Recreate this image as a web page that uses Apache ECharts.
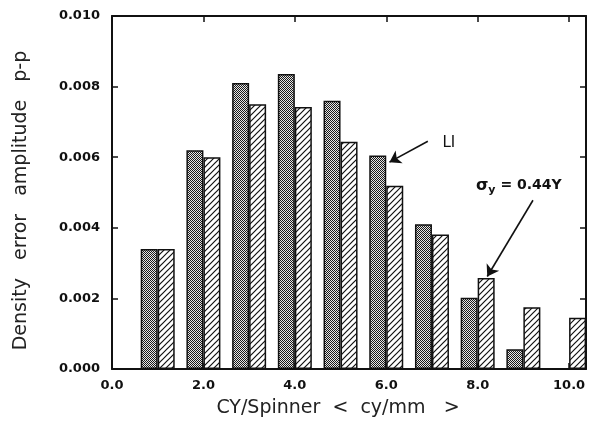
<!DOCTYPE html>
<html><head><meta charset="utf-8">
<script src="https://cdn.jsdelivr.net/npm/echarts@6/dist/echarts.min.js"></script>
<style>html,body{margin:0;padding:0;background:#fff}#c{width:593px;height:424px}</style>
</head><body><div id="c"></div>
<script>
// Data
const freqs = [1, 2, 3, 4, 5, 6, 7, 8, 9, 10];
const liValues = [0.0034, 0.0062, 0.0081, 0.00836, 0.0076, 0.00605, 0.0041, 0.00202, 0.00056, 0];
const sigmaValues = [0.0034, 0.0060, 0.0075, 0.00742, 0.00644, 0.00519, 0.00381, 0.00258, 0.00175, 0.00145];
const xTickLabels = ['0.0', '2.0', '4.0', '6.0', '8.0', '10.0'];
const yTickLabels = ['0.000', '0.002', '0.004', '0.006', '0.008', '0.010'];
const liLabel = 'LI';
const liArrow = [[6.91, 0.00645], [6.07, 0.00586]];
const liTextAt = [7.37, 0.00639];
const sigmaArrow = [[9.21, 0.00478], [8.21, 0.00262]];
const sigmaTextAt = [8.9, 0.00519];

function dotPattern() {
  const c = document.createElement('canvas'); c.width = 2; c.height = 2;
  const g = c.getContext('2d');
  g.fillStyle = '#e6e6e6'; g.fillRect(0, 0, 2, 2);
  g.fillStyle = '#1a1a1a'; g.fillRect(0, 0, 1, 1); g.fillRect(1, 1, 1, 1);
  return c;
}
function hatchPattern() {
  const s = 6;
  const c = document.createElement('canvas'); c.width = s; c.height = s;
  const g = c.getContext('2d');
  g.fillStyle = '#fff'; g.fillRect(0, 0, s, s);
  g.strokeStyle = '#111'; g.lineWidth = 1.2;
  g.beginPath();
  g.moveTo(-s, 2 * s); g.lineTo(2 * s, -s);
  g.moveTo(-s, s); g.lineTo(s, -s);
  g.moveTo(0, 2 * s); g.lineTo(2 * s, 0);
  g.stroke();
  return c;
}

const font = 'DejaVu Sans, Liberation Sans, sans-serif';
const chart = echarts.init(document.getElementById('c'));
const xCommon = {
  type: 'value', min: 0, max: 10.37, interval: 2,
  axisLine: { show: true, onZero: false, lineStyle: { color: '#111', width: 2 } },
  axisTick: { show: true, inside: true, length: 6, lineStyle: { color: '#111', width: 1.5 } },
  splitLine: { show: false }
};
const yCommon = {
  type: 'value', min: 0, max: 0.010, interval: 0.002,
  axisLine: { show: true, onZero: false, lineStyle: { color: '#111', width: 2 } },
  axisTick: { show: true, inside: true, length: 6, lineStyle: { color: '#111', width: 1.5 } },
  splitLine: { show: false }
};
chart.setOption({
  animation: false,
  backgroundColor: '#fff',
  grid: { left: 112, right: 7, top: 16, bottom: 55 },
  xAxis: [
    Object.assign({}, xCommon, {
      position: 'bottom',
      axisLabel: {
        margin: 10, color: '#111', fontSize: 13, fontWeight: 'bold', fontFamily: font,
        formatter: v => { const i = Math.round(v / 2); return (Math.abs(v - i * 2) < 1e-6 && i < xTickLabels.length) ? xTickLabels[i] : ''; }
      },
      name: 'CY/Spinner  <  cy/mm   >', nameLocation: 'middle', nameGap: 30,
      nameTextStyle: { fontSize: 19, color: '#222', fontFamily: font, padding: [0, 22, 0, 0] }
    }),
    Object.assign({}, xCommon, { position: 'top', axisLabel: { show: false } })
  ],
  yAxis: [
    Object.assign({}, yCommon, {
      position: 'left',
      axisLabel: {
        margin: 12, color: '#111', fontSize: 13, fontWeight: 'bold', fontFamily: font,
        formatter: v => { const i = Math.round(v / 0.002); return yTickLabels[i] || ''; }
      },
      name: 'Density   error   amplitude   p-p', nameLocation: 'middle', nameGap: 81, nameRotate: 90,
      nameTextStyle: { fontSize: 19, color: '#222', fontFamily: font, padding: [0, 16, 0, 0] }
    }),
    Object.assign({}, yCommon, { position: 'right', axisLabel: { show: false } })
  ],
  series: [
    {
      type: 'bar', name: 'LI', xAxisIndex: 0, yAxisIndex: 0,
      barWidth: 17, barGap: '0%',
      data: freqs.map((f, i) => [f, liValues[i]]),
      itemStyle: { color: { image: dotPattern(), repeat: 'repeat' }, borderColor: '#111', borderWidth: 1.5 }
    },
    {
      type: 'bar', name: 'sigma', xAxisIndex: 0, yAxisIndex: 0,
      barWidth: 17, barGap: '0%',
      data: freqs.map((f, i) => [f, sigmaValues[i]]),
      itemStyle: { color: { image: hatchPattern(), repeat: 'repeat' }, borderColor: '#111', borderWidth: 1.5 }
    },
    {
      type: 'scatter', name: 'notes', xAxisIndex: 0, yAxisIndex: 0, data: [], silent: true,
      markLine: {
        silent: true, animation: false,
        symbol: ['none', 'arrow'], symbolSize: 11,
        lineStyle: { color: '#111', width: 1.6, type: 'solid' },
        label: { show: false },
        data: [
          [{ coord: liArrow[0] }, { coord: liArrow[1] }],
          [{ coord: sigmaArrow[0] }, { coord: sigmaArrow[1] }]
        ]
      },
      markPoint: {
        silent: true, symbol: 'circle', symbolSize: 0,
        data: [
          { coord: liTextAt, label: { show: true, position: 'inside', formatter: liLabel, color: '#111', fontSize: 15, fontFamily: font } },
          { coord: sigmaTextAt, label: {
            show: true, position: 'inside', color: '#111', fontFamily: font,
            formatter: '{s|σ}{sub|y}{t| = 0.44Y}',
            rich: {
              s: { fontSize: 16, fontWeight: 'bold', fontFamily: font, color: '#111' },
              sub: { fontSize: 11, fontWeight: 'bold', fontFamily: font, color: '#111', padding: [9, 0, 0, 0] },
              t: { fontSize: 14, fontWeight: 'bold', fontFamily: font, color: '#111' }
            }
          } }
        ]
      }
    }
  ]
});
</script>
</body></html>
